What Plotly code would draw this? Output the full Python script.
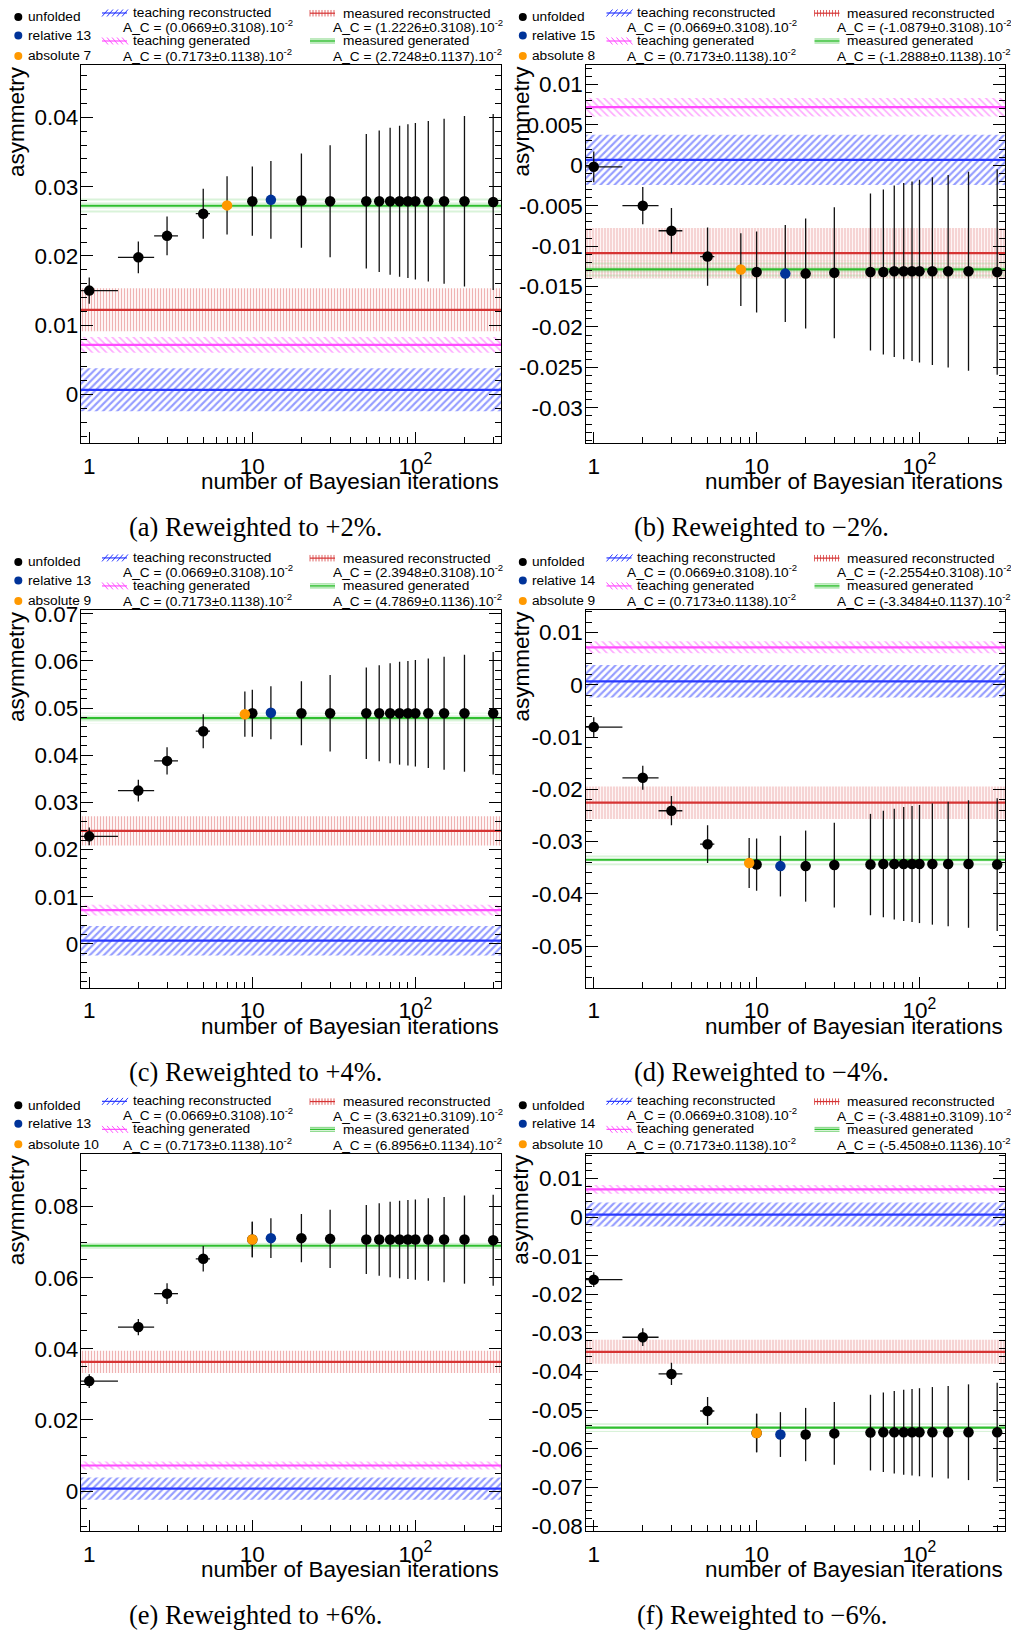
import math
import plotly.graph_objects as go

W, H = 1011, 1631

# ---------------- data ----------------
ITER = [1, 2, 3, 5, 10, 20, 30, 50, 60, 70, 80, 90, 100, 120, 150, 200, 300]
ITER_XERR = 0.5

UNF_A = [0.0150, 0.0198, 0.0229, 0.0261, 0.0279, 0.0280, 0.0279, 0.0279, 0.0279, 0.0279, 0.0279, 0.0279, 0.0279, 0.0279, 0.0279, 0.0279, 0.0278]
ERR_A = [0.0019, 0.0023, 0.0028, 0.0036, 0.0050, 0.0068, 0.0081, 0.0097, 0.0102, 0.0106, 0.0109, 0.0111, 0.0113, 0.0116, 0.0119, 0.0123, 0.0127]
UNF_B = [-0.0002, -0.0050, -0.0081, -0.0113, -0.0132, -0.0134, -0.0133, -0.0132, -0.0132, -0.0131, -0.0131, -0.0131, -0.0131, -0.0131, -0.0131, -0.0131, -0.0132]
ERR_B = [0.0019, 0.0023, 0.0028, 0.0036, 0.0050, 0.0068, 0.0081, 0.0097, 0.0102, 0.0106, 0.0109, 0.0111, 0.0113, 0.0116, 0.0119, 0.0123, 0.0127]
UNF_C = [0.0228, 0.0325, 0.0388, 0.0451, 0.0489, 0.0489, 0.0489, 0.0489, 0.0489, 0.0489, 0.0489, 0.0489, 0.0489, 0.0489, 0.0489, 0.0489, 0.0489]
ERR_C = [0.0019, 0.0023, 0.0029, 0.0036, 0.0050, 0.0068, 0.0081, 0.0097, 0.0102, 0.0106, 0.0109, 0.0111, 0.0113, 0.0116, 0.0120, 0.0124, 0.0130]
UNF_D = [-0.0081, -0.0178, -0.0241, -0.0305, -0.0344, -0.0347, -0.0345, -0.0344, -0.0343, -0.0343, -0.0343, -0.0343, -0.0343, -0.0343, -0.0343, -0.0343, -0.0344]
ERR_D = [0.0019, 0.0023, 0.0028, 0.0036, 0.0050, 0.0068, 0.0081, 0.0097, 0.0102, 0.0106, 0.0109, 0.0111, 0.0113, 0.0116, 0.0119, 0.0122, 0.0127]
UNF_E = [0.0309, 0.0461, 0.0555, 0.0653, 0.0707, 0.0711, 0.0709, 0.0707, 0.0707, 0.0707, 0.0707, 0.0707, 0.0707, 0.0707, 0.0707, 0.0707, 0.0705]
ERR_E = [0.0019, 0.0023, 0.0029, 0.0036, 0.0050, 0.0068, 0.0082, 0.0097, 0.0102, 0.0106, 0.0109, 0.0111, 0.0113, 0.0116, 0.0120, 0.0124, 0.0128]
UNF_F = [-0.0162, -0.0311, -0.0406, -0.0502, -0.0559, -0.0563, -0.0560, -0.0558, -0.0557, -0.0557, -0.0557, -0.0557, -0.0557, -0.0557, -0.0557, -0.0557, -0.0557]
ERR_F = [0.0019, 0.0023, 0.0029, 0.0036, 0.0050, 0.0069, 0.0081, 0.0098, 0.0103, 0.0107, 0.0110, 0.0112, 0.0114, 0.0117, 0.0120, 0.0124, 0.0128]

ABS_ITER = [7, 8, 9, 9, 10, 10]
ABS_VAL = [0.0273, -0.0129, 0.0487, -0.0341, 0.0707, -0.0559]
ABS_ERR = [0.0042, 0.0045, 0.0048, 0.0048, 0.0050, 0.0050]
REL_ITER = [13, 15, 13, 14, 13, 14]
REL_VAL = [0.0281, -0.0134, 0.0490, -0.0347, 0.0711, -0.0563]
REL_ERR = [0.0056, 0.0060, 0.0056, 0.0058, 0.0056, 0.0058]

# band values, in units of 1e-2
TEACH_RECO = (0.0669, 0.3108)
TEACH_GEN = (0.7173, 0.1138)
MEAS_RECO_C = [1.2226, -1.0879, 2.3948, -2.2554, 3.6321, -3.4881]
MEAS_RECO_E = [0.3108, 0.3108, 0.3108, 0.3108, 0.3109, 0.3109]
MEAS_GEN_C = [2.7248, -1.2888, 4.7869, -3.3484, 6.8956, -5.4508]
MEAS_GEN_E = [0.1137, 0.1138, 0.1136, 0.1137, 0.1134, 0.1136]

CAPTIONS = ["(a) Reweighted to +2%.", "(b) Reweighted to \u22122%.",
            "(c) Reweighted to +4%.", "(d) Reweighted to \u22124%.",
            "(e) Reweighted to +6%.", "(f) Reweighted to \u22126%."]

Y_RANGES = [[-0.00707, 0.0475], [-0.0344, 0.01233], [-0.00933, 0.0707],
            [-0.0580, 0.01423], [-0.01133, 0.0948], [-0.08136, 0.01639]]
YT_A = [0, 0.01, 0.02, 0.03, 0.04]
YL_A = ["0", "0.01", "0.02", "0.03", "0.04"]
YT_B = [-0.03, -0.025, -0.02, -0.015, -0.01, -0.005, 0, 0.005, 0.01]
YL_B = ["-0.03", "-0.025", "-0.02", "-0.015", "-0.01", "-0.005", "0", "0.005", "0.01"]
YT_C = [0, 0.01, 0.02, 0.03, 0.04, 0.05, 0.06, 0.07]
YL_C = ["0", "0.01", "0.02", "0.03", "0.04", "0.05", "0.06", "0.07"]
YT_D = [-0.05, -0.04, -0.03, -0.02, -0.01, 0, 0.01]
YL_D = ["-0.05", "-0.04", "-0.03", "-0.02", "-0.01", "0", "0.01"]
YT_E = [0, 0.02, 0.04, 0.06, 0.08]
YL_E = ["0", "0.02", "0.04", "0.06", "0.08"]
YT_F = [-0.08, -0.07, -0.06, -0.05, -0.04, -0.03, -0.02, -0.01, 0, 0.01]
YL_F = ["-0.08", "-0.07", "-0.06", "-0.05", "-0.04", "-0.03", "-0.02", "-0.01", "0", "0.01"]
Y_MINOR = [0.002, 0.001, 0.002, 0.002, 0.005, 0.002]

X_RANGE = [0.89, 335]
XT = [1, 10, 100]
XL = ["1", "10", "10<sup>2</sup>"]
X_MINOR = [2, 3, 4, 5, 6, 7, 8, 9, 20, 30, 40, 50, 60, 70, 80, 90, 200, 300]

UNF = [UNF_A, UNF_B, UNF_C, UNF_D, UNF_E, UNF_F]
ERR = [ERR_A, ERR_B, ERR_C, ERR_D, ERR_E, ERR_F]
YT = [YT_A, YT_B, YT_C, YT_D, YT_E, YT_F]
YL = [YL_A, YL_B, YL_C, YL_D, YL_E, YL_F]

# ---------------- style / layout ----------------
FONT = "Liberation Sans, Arial, Helvetica, sans-serif"
SERIF = "Liberation Serif, Times New Roman, serif"
COL_X = [(81, 501), (585.5, 1005)]
ROW_Y = [(65, 443), (610, 987.5), (1153.5, 1531)]

# vertical screen calibration (page is captured with a small vertical offset/scale)
SCREEN_A, SCREEN_B = 8.5, 0.9897

C_BLUE_L, C_BLUE_H = "#2a3aff", "#2a3aff"
C_MAG_L, C_MAG_H = "#ff4dff", "#ff55ff"
C_RED_L, C_RED_H = "#d63333", "rgba(220,85,85,0.9)"
C_GRN_L, C_GRN_H = "#2fbf2f", "#80d680"
C_ORANGE = "#ff9900"
C_REL = "#003399"


def px(x):
    return x / W


def py(y):
    yf = (y - SCREEN_A) / SCREEN_B
    return 1 - yf / H


fig = go.Figure()
layout = dict(width=W, height=H, margin=dict(l=0, r=0, t=0, b=0),
              paper_bgcolor="white", plot_bgcolor="white", showlegend=False)
annotations = []
shapes = []

BAND_X = [0.3, 2000, 2000, 0.3, 0.3]

for i in range(6):
    c, r = i % 2, i // 2
    xa = "x" if i == 0 else f"x{i+1}"
    ya = "y" if i == 0 else f"y{i+1}"
    xkey = "xaxis" if i == 0 else f"xaxis{i+1}"
    ykey = "yaxis" if i == 0 else f"yaxis{i+1}"
    x0p, x1p = COL_X[c]
    y0p, y1p = ROW_Y[r]

    layout[xkey] = dict(
        domain=[px(x0p), px(x1p)], anchor=ya, type="log",
        range=[math.log10(X_RANGE[0]), math.log10(X_RANGE[1])],
        tickmode="array", tickvals=XT, ticktext=XL,
        ticks="inside", ticklen=11, tickwidth=1, tickcolor="black",
        showline=True, linecolor="black", linewidth=1.4, mirror=True,
        showgrid=False, zeroline=False,
        tickfont=dict(family=FONT, size=22.5, color="black"),
        ticklabelstandoff=2,
        minor=dict(ticks="inside", ticklen=6, tickwidth=1, tickcolor="black",
                   tickmode="array", tickvals=X_MINOR, showgrid=False),
    )
    layout[ykey] = dict(
        domain=[py(y1p), py(y0p)], anchor=xa, range=Y_RANGES[i],
        tickmode="array", tickvals=YT[i], ticktext=YL[i],
        ticks="inside", ticklen=12, tickwidth=1, tickcolor="black",
        showline=True, linecolor="black", linewidth=1.4, mirror="ticks",
        showgrid=False, zeroline=False,
        tickfont=dict(family=FONT, size=22.5, color="black"),
        ticklabelstandoff=-3,
        minor=dict(ticks="inside", ticklen=6, tickwidth=1, tickcolor="black",
                   tickmode="linear", tick0=0, dtick=Y_MINOR[i], showgrid=False),
    )

    bands = [
        (TEACH_RECO[0], TEACH_RECO[1], C_BLUE_L, C_BLUE_H, "/", 5, 0.42),
        (TEACH_GEN[0], TEACH_GEN[1], C_MAG_L, C_MAG_H, "\\", 5, 0.34),
        (MEAS_RECO_C[i], MEAS_RECO_E[i], C_RED_L, C_RED_H, "|", 3, 0.42),
        (MEAS_GEN_C[i], MEAS_GEN_E[i], C_GRN_L, C_GRN_H, "-", 4, 0.3),
    ]
    for cen, err, lc, hc, shp, sz, sol in bands:
        cv, ev = cen * 1e-2, err * 1e-2
        fig.add_trace(go.Scatter(
            x=BAND_X, y=[cv - ev, cv - ev, cv + ev, cv + ev, cv - ev],
            xaxis=xa, yaxis=ya, mode="lines", line=dict(width=0),
            fill="toself", fillcolor="rgba(0,0,0,0)",
            fillpattern=dict(shape=shp, fgcolor=hc, bgcolor="rgba(0,0,0,0)",
                             size=sz, solidity=sol),
            hoverinfo="skip"))
        fig.add_trace(go.Scatter(
            x=[BAND_X[0], BAND_X[1]], y=[cv, cv], xaxis=xa, yaxis=ya,
            mode="lines", line=dict(color=lc, width=2.2), hoverinfo="skip"))

    ebar = dict(color="#111111", thickness=1.3, width=0)
    fig.add_trace(go.Scatter(
        x=ITER, y=UNF[i], xaxis=xa, yaxis=ya, mode="markers",
        marker=dict(color="black", size=10.5),
        error_y=dict(type="data", array=ERR[i], **ebar),
        error_x=dict(type="constant", value=ITER_XERR, **ebar)))
    fig.add_trace(go.Scatter(
        x=[ABS_ITER[i]], y=[ABS_VAL[i]], xaxis=xa, yaxis=ya, mode="markers",
        marker=dict(color=C_ORANGE, size=10.5),
        error_y=dict(type="data", array=[ABS_ERR[i]], **ebar),
        error_x=dict(type="constant", value=ITER_XERR, **ebar)))
    fig.add_trace(go.Scatter(
        x=[REL_ITER[i]], y=[REL_VAL[i]], xaxis=xa, yaxis=ya, mode="markers",
        marker=dict(color=C_REL, size=10.5),
        error_y=dict(type="data", array=[REL_ERR[i]], **ebar),
        error_x=dict(type="constant", value=ITER_XERR, **ebar)))

    # axis titles
    annotations.append(dict(text="number of Bayesian iterations", xref="paper", yref="paper",
                            x=px(x1p), y=py(y1p + 38.5), xanchor="right", yanchor="middle",
                            showarrow=False, font=dict(family=FONT, size=22.5, color="black")))
    ox = x0p - 81
    oy = y0p - 65
    annotations.append(dict(text="asymmetry", xref="paper", yref="paper",
                            x=px(ox + 16.5), y=py(y0p - 1.5), xanchor="center", yanchor="top",
                            textangle=-90, showarrow=False,
                            font=dict(family=FONT, size=22.5, color="black")))
    # caption
    annotations.append(dict(text=CAPTIONS[i], xref="paper", yref="paper",
                            x=px(ox + 255 + (2 if c else 0)), y=py(y1p + 84),
                            xanchor="center", yanchor="middle", showarrow=False,
                            font=dict(family=SERIF, size=26.5, color="black")))

    # legend block
    lf = dict(family=FONT, size=13.7, color="black")

    def txt(t, x, y):
        annotations.append(dict(text=t, xref="paper", yref="paper", x=px(ox + x), y=py(oy + y),
                                xanchor="left", yanchor="middle", showarrow=False, font=lf))

    for (yy, col, label) in [(16.5, "black", "unfolded"),
                             (35.0, C_REL, f"relative {REL_ITER[i]}"),
                             (55.5, C_ORANGE, f"absolute {ABS_ITER[i]}")]:
        shapes.append(dict(type="circle", xref="paper", yref="paper", xsizemode="pixel",
                           ysizemode="pixel", xanchor=px(ox + 18.3), yanchor=py(oy + yy),
                           x0=-4, x1=4, y0=-4, y1=4, fillcolor=col, line=dict(width=0)))
        txt(label, 25.5, yy)

    def ac(cen, err):
        return f"A_C = ({cen:.4f}\u00b1{err:.4f}).10<sup>-2</sup>"

    txt("teaching reconstructed", 130.5, 12)
    txt(ac(*TEACH_RECO), 120.5, 25.5)
    txt("teaching generated", 130.5, 40)
    txt(ac(*TEACH_GEN), 120.5, 55)
    txt("measured reconstructed", 340.5, 13)
    txt(ac(MEAS_RECO_C[i], MEAS_RECO_E[i]), 330.5, 26)
    txt("measured generated", 340.5, 40.5)
    txt(ac(MEAS_GEN_C[i], MEAS_GEN_E[i]), 330.5, 55)

    def seg(xa_, ya_, xb_, yb_, col, w=1):
        shapes.append(dict(type="line", xref="paper", yref="paper",
                           x0=px(ox + xa_), y0=py(oy + ya_), x1=px(ox + xb_), y1=py(oy + yb_),
                           line=dict(color=col, width=w)))

    # teaching reconstructed symbol: ////
    for k in range(5):
        xs = 102 + k * 5
        seg(xs, 16, xs + 6, 9, C_BLUE_H)
    seg(102, 12.5, 127, 12.5, C_BLUE_L, 1.2)
    # teaching generated symbol: \\\\
    for k in range(5):
        xs = 102 + k * 5
        seg(xs, 37, xs + 6, 44, C_MAG_H)
    seg(102, 40.5, 127, 40.5, C_MAG_L, 1.2)
    # measured reconstructed symbol: ||||
    for k in range(9):
        xs = 310 + k * 3
        seg(xs, 9.5, xs, 16, C_RED_H)
    seg(310, 12.7, 335, 12.7, C_RED_L, 1.2)
    # measured generated symbol: ===
    seg(310, 38.5, 335, 38.5, C_GRN_H, 1)
    seg(310, 42.5, 335, 42.5, C_GRN_H, 1)
    seg(310, 40.5, 335, 40.5, C_GRN_L, 1.5)

layout["annotations"] = annotations
layout["shapes"] = shapes
fig.update_layout(**layout)
fig.write_html("out.html")
